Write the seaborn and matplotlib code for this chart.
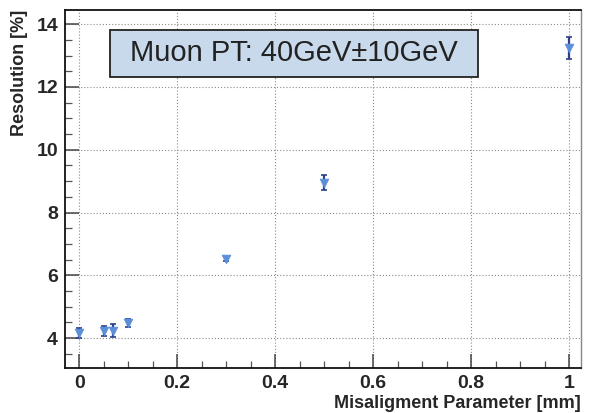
import matplotlib
matplotlib.use("Agg")
import matplotlib.pyplot as plt
import seaborn as sns
import pandas as pd
from matplotlib.ticker import MultipleLocator
from matplotlib.patches import Rectangle

# data
misalign = [0.0, 0.05, 0.07, 0.1, 0.3, 0.5, 1.0]
resolution = [4.16, 4.24, 4.24, 4.48, 6.52, 8.95, 13.24]
res_err = [0.15, 0.16, 0.20, 0.13, 0.05, 0.24, 0.35]

df = pd.DataFrame({"x": misalign, "y": resolution, "err": res_err})

sns.set_theme(style="white")
plt.rcParams["font.family"] = ["Liberation Sans", "DejaVu Sans"]

fig = plt.figure(figsize=(5.89, 4.13), dpi=100)
ax = fig.add_axes([65 / 589, 45 / 413, 516 / 589, 358 / 413])

ax.errorbar(df["x"], df["y"], yerr=df["err"], fmt="none", ecolor="#2b3f8f",
            elinewidth=1.6, capsize=2.5, capthick=1.2, zorder=3)
sns.scatterplot(data=df, x="x", y="y", marker="v", s=40, color="#5b8fd8",
                edgecolor="#5b8fd8", linewidth=0.5, ax=ax, zorder=4)

ax.set_xlim(-0.029, 1.0245)
ax.set_ylim(3.05, 14.45)
ax.xaxis.set_major_locator(MultipleLocator(0.2))
ax.xaxis.set_minor_locator(MultipleLocator(0.05))
ax.yaxis.set_major_locator(MultipleLocator(2))
ax.yaxis.set_minor_locator(MultipleLocator(0.5))
ax.set_xticks([0, 0.2, 0.4, 0.6, 0.8, 1.0])
ax.set_xticklabels(["0", "0.2", "0.4", "0.6", "0.8", "1"])

ax.tick_params(which="major", direction="in", length=10, width=1.1, color="#444444",
               labelsize=14, pad=5, bottom=True, left=True)
ax.tick_params(which="minor", direction="in", length=5, width=0.9, color="#555555",
               bottom=True, left=True)
for lbl in ax.get_xticklabels() + ax.get_yticklabels():
    lbl.set_fontweight("bold")

ax.grid(True, which="major", linestyle=(0, (1, 1.8)), color="#8a8a8a", linewidth=0.8)
ax.set_axisbelow(True)

for side in ["left", "bottom", "top"]:
    ax.spines[side].set_color("#111111")
    ax.spines[side].set_linewidth(1.3)
ax.spines["right"].set_color("#888888")
ax.spines["right"].set_linewidth(1.0)

ax.set_xlabel("Misaligment Parameter [mm]", fontsize=13, fontweight="bold", loc="right", labelpad=2)
ax.set_ylabel("Resolution [%]", fontsize=13, fontweight="bold", loc="top", labelpad=6)

# label box
ax.add_patch(Rectangle((0.087, 0.813), 0.713, 0.131, transform=ax.transAxes,
                       facecolor="#c9d9ec", edgecolor="#222222", linewidth=1.3, zorder=5))
ax.text(0.4435, 0.879, "Muon PT: 40GeV\u00b110GeV", transform=ax.transAxes,
        ha="center", va="center", fontsize=21, color="#222222", zorder=6)

fig.savefig("out.png", dpi=100)
